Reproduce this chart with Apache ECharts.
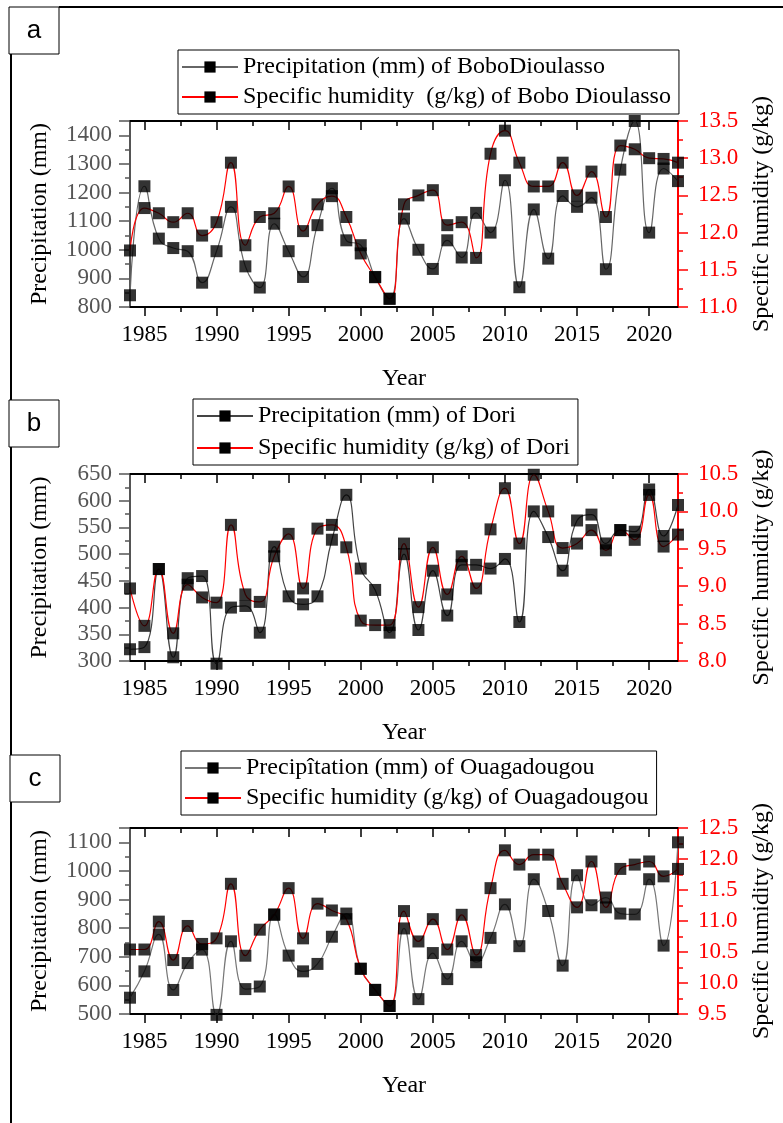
<!DOCTYPE html>
<html><head><meta charset="utf-8">
<script src="https://cdn.jsdelivr.net/npm/echarts@6/dist/echarts.min.js"></script>
<style>html,body{margin:0;padding:0;background:#fff}#c{width:783px;height:1123px}</style>
</head><body><div id="c"></div><script>
const years = [1984,1985,1986,1987,1988,1989,1990,1991,1992,1993,1994,1995,1996,1997,1998,1999,2000,2001,2002,2003,2004,2005,2006,2007,2008,2009,2010,2011,2012,2013,2014,2015,2016,2017,2018,2019,2020,2021,2022];
const majorYears = [1985,1990,1995,2000,2005,2010,2015,2020];
const minorYears = [1987.5,1992.5,1997.5,2002.5,2007.5,2012.5,2017.5];

const precipA = [841,1222,1039,1006,995,885,995,1150,942,868,1091,995,905,1086,1215,1033,1016,905,829,1109,1000,933,1033,973,1129,1060,1243,869,1141,969,1188,1150,1182,932,1280,1450,1060,1284,1240];
const humA = [11.76,12.33,12.26,12.14,12.26,11.96,12.14,12.94,11.83,12.21,12.26,12.62,12.02,12.38,12.49,12.21,11.72,11.40,11.11,12.38,12.50,12.57,12.10,12.14,11.66,13.06,13.37,12.94,12.62,12.62,12.94,12.50,12.82,12.21,13.17,13.12,13.00,12.99,12.94];
const precipB = [322,326,472,307,455,459,295,400,403,353,514,421,406,421,527,611,473,433,353,500,358,469,385,480,480,473,491,373,580,532,469,563,574,520,545,542,621,534,592];
const humB = [8.97,8.47,9.23,8.37,9.02,8.85,8.78,9.82,8.89,8.79,9.40,9.70,8.97,9.77,9.82,9.52,8.54,8.48,8.48,9.57,8.72,9.52,8.89,9.40,8.97,9.76,10.31,9.57,10.49,10.00,9.51,9.57,9.75,9.48,9.75,9.62,10.22,9.53,9.69];
const precipC = [557,649,778,584,678,725,497,754,587,596,848,704,649,675,770,851,658,584,528,799,552,713,622,754,681,766,883,737,971,860,669,985,880,907,851,848,971,739,1100];
const humC = [10.54,10.54,10.99,10.37,10.92,10.63,10.72,11.60,10.44,10.86,11.10,11.53,10.72,11.28,11.17,11.03,10.23,9.89,9.63,11.16,10.67,11.03,10.54,11.10,10.45,11.53,12.14,11.91,12.07,12.07,11.60,11.22,11.96,11.22,11.84,11.91,11.96,11.72,11.84];

const panelLetters = ['a','b','c'];
const precipNames = ['Precipitation (mm) of BoboDioulasso','Precipitation (mm) of Dori','Precipîtation (mm) of Ouagadougou'];
const humNames = ['Specific humidity  (g/kg) of Bobo Dioulasso','Specific humidity (g/kg) of Dori','Specific humidity (g/kg) of Ouagadougou'];
const leftRanges = [[800,1450,100],[300,650,50],[500,1150,100]];
const rightRanges = [[11.0,13.5,0.5],[8.0,10.5,0.5],[9.5,12.5,0.5]];
const precipData = [precipA, precipB, precipC];
const humData = [humA, humB, humC];

const FONT = 'Liberation Serif';
const gridTops = [121, 474, 828];
const gridHeights = [186, 187, 186];
const legendPos = [[178,50,6],[193,399,8],[181,751,6]];
const boxPos = [[9,7],[9,400],[10,755]];
const precipLineColor = ['#666','#444','#777'];

const option = {
  backgroundColor:'#fff',
  animation:false,
  textStyle:{fontFamily:FONT},
  grid:[], xAxis:[], yAxis:[], series:[], legend:[], graphic:[]
};

for (let p=0;p<3;p++){
  option.grid.push({left:130, top:gridTops[p], width:548, height:gridHeights[p]});
  const base = {gridIndex:p, type:'value', min:1984, max:2022, splitLine:{show:false}};
  option.xAxis.push(Object.assign({}, base, {
    position:'bottom', name:'Year', nameLocation:'middle', nameGap:60,
    nameTextStyle:{fontFamily:FONT, fontSize:24, color:'#000'},
    axisLine:{show:true, lineStyle:{color:'#000', width:2}},
    axisTick:{show:true, inside:false, length:9, customValues:majorYears, lineStyle:{color:'#000', width:1.5}},
    axisLabel:{show:true, customValues:majorYears, margin:16, fontFamily:FONT, fontSize:23, color:'#000', formatter:v=>String(v)}
  }));
  option.xAxis.push(Object.assign({}, base, {
    position:'bottom', axisLine:{show:false},
    axisTick:{show:true, inside:false, length:5, customValues:minorYears, lineStyle:{color:'#000', width:1.5}},
    axisLabel:{show:false}
  }));
  option.xAxis.push(Object.assign({}, base, {
    position:'top', axisLine:{show:true, lineStyle:{color:'#000', width:2}},
    axisTick:{show:true, inside:true, length:9, customValues:majorYears, lineStyle:{color:'#000', width:1.5}},
    axisLabel:{show:false}
  }));
  option.xAxis.push(Object.assign({}, base, {
    position:'top', axisLine:{show:false},
    axisTick:{show:true, inside:true, length:5, customValues:minorYears, lineStyle:{color:'#000', width:1.5}},
    axisLabel:{show:false}
  }));
  const lr = leftRanges[p], rr = rightRanges[p];
  option.yAxis.push({
    gridIndex:p, type:'value', position:'left', min:lr[0], max:lr[1], interval:lr[2],
    name:'Precipitation (mm)', nameLocation:'middle', nameGap:78, nameRotate:90,
    nameTextStyle:{fontFamily:FONT, fontSize:24, color:'#000'},
    axisLine:{show:true, lineStyle:{color:'#555', width:2}},
    axisTick:{show:true, inside:false, length:11, lineStyle:{color:'#555', width:1.5}},
    minorTick:{show:true, splitNumber:2, length:5, lineStyle:{color:'#555', width:1.5}},
    axisLabel:{margin:18, showMaxLabel: lr[1] % lr[2] === 0, fontFamily:FONT, fontSize:23, color:'#555', formatter:v=>String(v)},
    splitLine:{show:false}
  });
  option.yAxis.push({
    gridIndex:p, type:'value', position:'right', min:rr[0], max:rr[1], interval:rr[2],
    name:'Specific humidity (g/kg)', nameLocation:'middle', nameGap:72, nameRotate:90,
    nameTextStyle:{fontFamily:FONT, fontSize:24, color:'#000'},
    axisLine:{show:true, lineStyle:{color:'#ff0000', width:2}},
    axisTick:{show:true, inside:false, length:10, lineStyle:{color:'#ff0000', width:1.5}},
    minorTick:{show:true, splitNumber:2, length:5, lineStyle:{color:'#ff0000', width:1.5}},
    axisLabel:{margin:20, fontFamily:FONT, fontSize:23, color:'#ff0000', formatter:v=>v.toFixed(1)},
    splitLine:{show:false}
  });
  const pd = years.map((y,i)=>[y, precipData[p][i]]);
  const hd = years.map((y,i)=>[y, humData[p][i]]);
  option.series.push({
    name:precipNames[p], type:'line', xAxisIndex:p*4, yAxisIndex:p*2, data:pd,
    smooth:0.5, showSymbol:false, symbol:'rect', clip:false,
    lineStyle:{color:precipLineColor[p], width:1.2}, itemStyle:{color:'#000'}, z:2
  });
  option.series.push({
    name:humNames[p], type:'line', xAxisIndex:p*4, yAxisIndex:p*2+1, data:hd,
    smooth:0.5, showSymbol:false, symbol:'rect', clip:false,
    lineStyle:{color:'#ff0000', width:1.2}, itemStyle:{color:'#000'}, z:2
  });
  option.series.push({
    name:precipNames[p]+' pts', type:'scatter', xAxisIndex:p*4, yAxisIndex:p*2, data:pd,
    symbol:'rect', symbolSize:12, itemStyle:{color:'#000'}, z:5, clip:false
  });
  option.series.push({
    name:humNames[p]+' pts', type:'scatter', xAxisIndex:p*4, yAxisIndex:p*2+1, data:hd,
    symbol:'rect', symbolSize:12, itemStyle:{color:'#000'}, z:5, clip:false
  });
  const lp = legendPos[p];
  option.legend.push({
    left:lp[0], top:lp[1], orient:'vertical', data:[precipNames[p], humNames[p]],
    selectedMode:false, borderColor:'#000', borderWidth:1, backgroundColor:'#fff',
    padding:[5,8,5,3], itemGap:lp[2], itemWidth:56, itemHeight:14,
    textStyle:{fontFamily:FONT, fontSize:24, color:'#000'}
  });
  const bp = boxPos[p];
  option.graphic.push({type:'rect', shape:{x:bp[0], y:bp[1], width:50, height:47}, style:{fill:'#fff', stroke:'#000', lineWidth:1}, z:10});
  option.graphic.push({type:'text', x:bp[0]+25, y:bp[1]+24, style:{text:panelLetters[p], fontFamily:'Liberation Sans', fontSize:26, fill:'#000', align:'center', verticalAlign:'middle'}, z:11});
}
option.graphic.push({type:'line', shape:{x1:59, y1:7, x2:783, y2:7}, style:{stroke:'#000', lineWidth:2}, z:9});
option.graphic.push({type:'line', shape:{x1:11, y1:54, x2:11, y2:1123}, style:{stroke:'#000', lineWidth:2}, z:9});

const chart = echarts.init(document.getElementById('c'), null, {renderer:'canvas'});
chart.setOption(option);
</script></body></html>
